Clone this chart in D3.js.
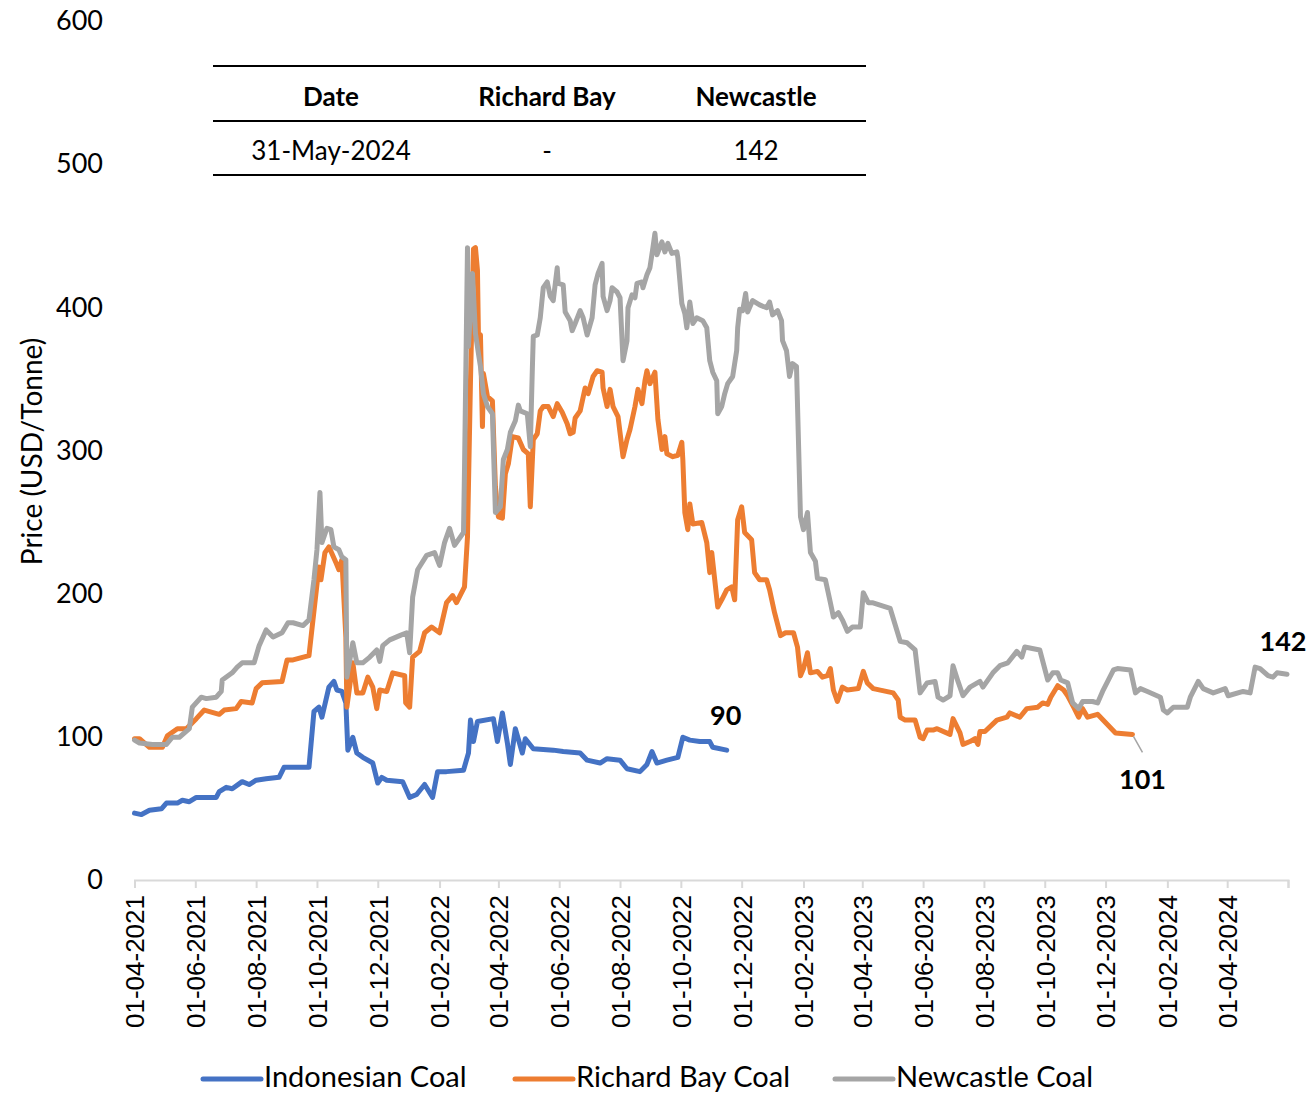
<!DOCTYPE html>
<html>
<head>
<meta charset="utf-8">
<script src="https://cdn.jsdelivr.net/npm/d3@7"></script>
<style>
  html, body { margin: 0; padding: 0; background: #fff; }
  svg { display: block; }
</style>
</head>
<body>
<svg id="chart" width="1309" height="1094"></svg>
<script>
// ---------------- DATA ----------------
const seriesNames = ["Indonesian Coal", "Richard Bay Coal", "Newcastle Coal"];
const seriesColors = ["#4472C4", "#ED7D31", "#A5A5A5"];
const yTicks = [0, 100, 200, 300, 400, 500, 600];
const yTitle = "Price (USD/Tonne)";
const xStart = "2021-04-01";
const xEnd = "2024-06-01";
const tableHeaders = ["Date", "Richard Bay", "Newcastle"];
const tableRow = ["31-May-2024", "-", "142"];
const endLabels = ["90", "101", "142"];

const indonesianCoal = [
["2021-04-01",46],["2021-04-08",45],["2021-04-16",48],["2021-04-28",49],["2021-05-03",53],["2021-05-14",53],
["2021-05-19",55],["2021-05-26",54],["2021-06-02",57],["2021-06-22",57],["2021-06-25",61],["2021-07-02",64],
["2021-07-08",63],["2021-07-18",68],["2021-07-25",66],["2021-08-01",69],["2021-08-11",70],["2021-08-24",71],
["2021-08-29",78],["2021-09-23",78],["2021-09-28",117],["2021-10-03",120],["2021-10-06",113],["2021-10-13",134],
["2021-10-18",138],["2021-10-21",132],["2021-10-26",131],["2021-10-30",123],["2021-11-01",90],["2021-11-06",99],
["2021-11-10",88],["2021-11-16",85],["2021-11-26",81],["2021-12-01",67],["2021-12-05",71],["2021-12-10",69],
["2021-12-26",68],["2022-01-02",57],["2022-01-09",59],["2022-01-17",66],["2022-01-25",57],["2022-01-30",75],
["2022-02-08",75],["2022-02-25",76],["2022-03-02",88],["2022-03-04",111],["2022-03-07",96],["2022-03-11",110],
["2022-03-27",112],["2022-03-31",96],["2022-04-05",116],["2022-04-10",95],["2022-04-13",80],["2022-04-18",105],
["2022-04-25",88],["2022-04-28",98],["2022-05-06",91],["2022-05-26",90],["2022-06-05",89],["2022-06-22",88],
["2022-06-29",83],["2022-07-12",81],["2022-07-19",84],["2022-08-01",83],["2022-08-08",77],["2022-08-21",75],
["2022-08-28",80],["2022-09-02",89],["2022-09-07",81],["2022-09-17",83],["2022-09-28",85],["2022-10-03",99],
["2022-10-10",97],["2022-10-20",96],["2022-10-30",96],["2022-11-02",92],["2022-11-16",90]
];

const richardBayCoal = [
["2021-04-01",98],["2021-04-06",98],["2021-04-16",92],["2021-04-29",92],["2021-05-04",100],["2021-05-14",105],
["2021-05-23",105],["2021-06-02",112],["2021-06-10",118],["2021-06-25",115],["2021-06-30",118],["2021-07-12",119],
["2021-07-17",124],["2021-07-28",123],["2021-08-01",133],["2021-08-07",137],["2021-08-27",138],["2021-09-01",153],
["2021-09-07",153],["2021-09-23",156],["2021-09-27",181],["2021-10-03",218],["2021-10-05",209],["2021-10-09",228],
["2021-10-13",232],["2021-10-20",221],["2021-10-23",216],["2021-10-26",223],["2021-10-30",169],["2021-10-31",120],
["2021-11-06",151],["2021-11-10",130],["2021-11-16",130],["2021-11-21",141],["2021-11-26",134],["2021-11-30",119],
["2021-12-03",132],["2021-12-10",131],["2021-12-16",144],["2021-12-28",142],["2021-12-29",123],["2022-01-02",120],
["2022-01-05",155],["2022-01-12",159],["2022-01-17",172],["2022-01-24",176],["2022-02-01",172],["2022-02-08",193],
["2022-02-14",198],["2022-02-18",193],["2022-02-26",204],["2022-03-01",239],["2022-03-04",348],["2022-03-07",440],
["2022-03-09",441],["2022-03-11",425],["2022-03-12",379],["2022-03-14",380],["2022-03-16",316],["2022-03-17",353],
["2022-03-21",337],["2022-03-26",334],["2022-03-29",274],["2022-04-01",253],["2022-04-05",252],["2022-04-08",283],
["2022-04-11",290],["2022-04-15",309],["2022-04-21",308],["2022-04-26",300],["2022-05-01",297],["2022-05-03",260],
["2022-05-06",307],["2022-05-10",311],["2022-05-13",327],["2022-05-16",330],["2022-05-21",330],["2022-05-26",323],
["2022-05-30",332],["2022-06-04",326],["2022-06-09",318],["2022-06-12",311],["2022-06-15",312],["2022-06-17",322],
["2022-06-22",327],["2022-06-27",343],["2022-06-30",339],["2022-07-05",351],["2022-07-09",355],["2022-07-14",354],
["2022-07-15",343],["2022-07-19",330],["2022-07-22",342],["2022-07-25",330],["2022-07-30",323],["2022-08-04",295],
["2022-08-08",307],["2022-08-11",314],["2022-08-16",330],["2022-08-19",342],["2022-08-23",332],["2022-08-26",348],
["2022-08-28",355],["2022-08-31",346],["2022-09-05",354],["2022-09-08",321],["2022-09-12",300],["2022-09-15",309],
["2022-09-17",297],["2022-09-23",295],["2022-09-28",296],["2022-10-02",305],["2022-10-03",293],["2022-10-05",256],
["2022-10-08",244],["2022-10-10",262],["2022-10-13",248],["2022-10-22",249],["2022-10-27",235],["2022-10-30",214],
["2022-11-01",228],["2022-11-04",209],["2022-11-07",190],["2022-11-11",195],["2022-11-16",202],["2022-11-21",204],
["2022-11-24",195],["2022-11-27",251],["2022-12-01",260],["2022-12-04",242],["2022-12-11",237],["2022-12-14",214],
["2022-12-19",209],["2022-12-26",209],["2022-12-29",202],["2023-01-03",186],["2023-01-09",170],["2023-01-14",172],
["2023-01-22",172],["2023-01-26",162],["2023-01-29",142],["2023-02-01",147],["2023-02-05",158],["2023-02-08",144],
["2023-02-15",145],["2023-02-20",141],["2023-02-25",142],["2023-02-28",147],["2023-03-03",132],["2023-03-07",124],
["2023-03-12",134],["2023-03-17",132],["2023-03-28",133],["2023-04-02",145],["2023-04-06",137],["2023-04-12",133],
["2023-05-02",130],["2023-05-07",125],["2023-05-09",113],["2023-05-14",111],["2023-05-24",111],["2023-05-29",99],
["2023-06-01",98],["2023-06-05",104],["2023-06-11",104],["2023-06-15",105],["2023-06-28",101],["2023-07-01",112],
["2023-07-08",102],["2023-07-11",94],["2023-07-18",96],["2023-07-23",98],["2023-07-26",94],["2023-07-28",103],
["2023-08-02",103],["2023-08-14",111],["2023-08-24",113],["2023-08-27",116],["2023-09-06",113],["2023-09-13",119],
["2023-09-24",120],["2023-09-29",123],["2023-10-04",122],["2023-10-07",127],["2023-10-14",135],["2023-10-20",132],
["2023-10-24",128],["2023-10-30",120],["2023-11-04",113],["2023-11-08",119],["2023-11-13",113],["2023-11-23",115],
["2023-12-11",102],["2023-12-28",101]
];

const newcastleCoal = [
["2021-04-01",97],["2021-04-06",95],["2021-04-19",94],["2021-05-03",94],["2021-05-09",99],["2021-05-16",99],
["2021-05-26",105],["2021-05-29",120],["2021-06-07",127],["2021-06-12",126],["2021-06-22",127],["2021-06-27",131],
["2021-06-28",139],["2021-07-08",144],["2021-07-13",148],["2021-07-18",151],["2021-07-30",151],["2021-08-04",163],
["2021-08-11",174],["2021-08-18",169],["2021-08-27",172],["2021-09-02",179],["2021-09-07",179],["2021-09-17",177],
["2021-09-23",181],["2021-09-28",209],["2021-10-01",230],["2021-10-04",270],["2021-10-06",235],["2021-10-11",245],
["2021-10-15",244],["2021-10-18",232],["2021-10-23",230],["2021-10-26",225],["2021-10-30",223],["2021-10-31",141],
["2021-11-06",165],["2021-11-10",151],["2021-11-16",151],["2021-11-23",155],["2021-11-30",160],["2021-12-03",152],
["2021-12-06",163],["2021-12-13",167],["2021-12-23",170],["2021-12-30",172],["2022-01-02",158],["2022-01-05",197],
["2022-01-10",216],["2022-01-19",226],["2022-01-27",228],["2022-02-01",219],["2022-02-06",235],["2022-02-11",245],
["2022-02-16",233],["2022-02-25",242],["2022-02-26",286],["2022-03-01",441],["2022-03-02",372],["2022-03-06",423],
["2022-03-09",381],["2022-03-12",367],["2022-03-14",358],["2022-03-17",339],["2022-03-21",330],["2022-03-26",325],
["2022-03-29",256],["2022-04-03",260],["2022-04-06",293],["2022-04-10",300],["2022-04-13",312],["2022-04-18",320],
["2022-04-21",331],["2022-04-23",327],["2022-04-30",325],["2022-05-03",302],["2022-05-05",355],["2022-05-06",379],
["2022-05-10",380],["2022-05-13",392],["2022-05-16",413],["2022-05-20",417],["2022-05-23",407],["2022-05-26",404],
["2022-05-30",427],["2022-05-31",416],["2022-06-05",415],["2022-06-07",396],["2022-06-12",390],["2022-06-14",383],
["2022-06-17",388],["2022-06-22",397],["2022-06-25",392],["2022-06-29",380],["2022-07-04",392],["2022-07-07",415],
["2022-07-10",423],["2022-07-14",430],["2022-07-15",407],["2022-07-19",397],["2022-07-22",404],["2022-07-24",413],
["2022-07-29",410],["2022-08-01",406],["2022-08-04",362],["2022-08-08",376],["2022-08-09",399],["2022-08-13",408],
["2022-08-16",406],["2022-08-18",416],["2022-08-23",417],["2022-08-24",413],["2022-08-28",422],["2022-08-31",427],
["2022-09-03",441],["2022-09-05",451],["2022-09-07",436],["2022-09-12",445],["2022-09-15",438],["2022-09-18",444],
["2022-09-22",437],["2022-09-27",438],["2022-09-28",434],["2022-10-02",402],["2022-10-05",395],["2022-10-07",385],
["2022-10-10",403],["2022-10-13",388],["2022-10-17",392],["2022-10-23",390],["2022-10-27",385],["2022-10-30",362],
["2022-11-02",354],["2022-11-06",348],["2022-11-07",325],["2022-11-11",330],["2022-11-14",339],["2022-11-17",346],
["2022-11-22",351],["2022-11-26",369],["2022-11-27",385],["2022-11-29",398],["2022-12-02",397],["2022-12-05",409],
["2022-12-07",396],["2022-12-12",404],["2022-12-19",401],["2022-12-26",399],["2022-12-29",403],["2023-01-01",394],
["2023-01-06",397],["2023-01-10",390],["2023-01-11",376],["2023-01-15",369],["2023-01-18",351],["2023-01-21",360],
["2023-01-25",358],["2023-01-29",253],["2023-02-01",244],["2023-02-05",256],["2023-02-08",228],["2023-02-13",222],
["2023-02-15",210],["2023-02-23",209],["2023-02-28",193],["2023-03-03",183],["2023-03-08",186],["2023-03-12",181],
["2023-03-17",173],["2023-03-22",176],["2023-03-30",176],["2023-04-02",200],["2023-04-07",193],["2023-04-11",193],
["2023-04-29",189],["2023-05-09",166],["2023-05-16",165],["2023-05-24",160],["2023-05-29",130],["2023-06-05",137],
["2023-06-13",138],["2023-06-16",127],["2023-06-21",125],["2023-06-28",128],["2023-07-01",149],["2023-07-06",138],
["2023-07-11",128],["2023-07-18",134],["2023-07-28",138],["2023-07-31",134],["2023-08-10",144],["2023-08-17",149],
["2023-08-25",151],["2023-09-03",159],["2023-09-08",155],["2023-09-11",162],["2023-09-26",160],["2023-10-04",139],
["2023-10-09",144],["2023-10-14",144],["2023-10-17",139],["2023-10-24",137],["2023-10-29",123],["2023-11-04",119],
["2023-11-08",124],["2023-11-18",124],["2023-11-23",123],["2023-11-28",131],["2023-12-09",146],["2023-12-13",147],
["2023-12-26",146],["2023-12-31",130],["2024-01-05",133],["2024-01-12",131],["2024-01-25",127],["2024-01-28",118],
["2024-02-01",116],["2024-02-07",120],["2024-02-21",120],["2024-02-24",127],["2024-03-03",138],["2024-03-08",133],
["2024-03-18",130],["2024-03-30",133],["2024-04-02",128],["2024-04-17",131],["2024-04-24",130],["2024-04-29",148],
["2024-05-04",147],["2024-05-12",142],["2024-05-17",141],["2024-05-21",144],["2024-05-31",143]
];

// ---------------- CHART ----------------
const parse = d3.timeParse("%Y-%m-%d");
const toPts = arr => arr.map(([d, v]) => ({ date: parse(d), value: v }));
const series = [indonesianCoal, richardBayCoal, newcastleCoal].map(toPts);

const svg = d3.select("#chart");
const plot = { left: 134.5, right: 1288, top: 20, bottom: 879 };

const x = d3.scaleTime().domain([parse(xStart), parse(xEnd)]).range([plot.left, plot.right]);
const y = d3.scaleLinear().domain([0, 600]).range([plot.bottom, plot.top]);

const sansFont = "Lato, 'Open Sans', sans-serif";

// Y axis labels
const yAxis = svg.append("g")
  .attr("transform", `translate(103,0)`)
  .call(d3.axisLeft(y).tickValues(yTicks).tickSize(0).tickPadding(0));
yAxis.select(".domain").remove();
yAxis.selectAll("text")
  .style("font-family", sansFont)
  .style("font-size", "27px")
  .attr("fill", "#000")
  .attr("dy", "0.36em");

// Y title
svg.append("text")
  .attr("transform", `translate(42,${(plot.top + plot.bottom) / 2 + 2}) rotate(-90)`)
  .attr("text-anchor", "middle")
  .style("font-family", sansFont)
  .style("font-size", "28px")
  .attr("fill", "#000")
  .text(yTitle);

// X axis: ticks every 2 months starting at the first date, plus the axis end
const startDate = parse(xStart), endDate = parse(xEnd);
const monthTicks = [];
for (let d = startDate; d < endDate; d = d3.timeMonth.offset(d, 2)) monthTicks.push(d);
const allTicks = monthTicks.concat([endDate]);
const fmt = d3.timeFormat("%d-%m-%Y");
const xAxisG = svg.append("g")
  .attr("transform", `translate(0,${plot.bottom + 1})`)
  .call(d3.axisBottom(x).tickValues(allTicks).tickSizeOuter(0).tickSize(8)
    .tickFormat(d => (+d === +endDate ? "" : fmt(d))));
xAxisG.select(".domain").attr("stroke", "#d9d9d9").attr("stroke-width", 2);
xAxisG.selectAll(".tick line").attr("stroke", "#d9d9d9").attr("stroke-width", 2);
xAxisG.selectAll(".tick text")
  .attr("transform", "rotate(-90)")
  .attr("x", -15)
  .attr("y", 0)
  .attr("dy", "0.36em")
  .style("text-anchor", "end")
  .style("font-family", "'Liberation Sans', Arial, sans-serif")
  .style("font-size", "26px")
  .attr("fill", "#000");

// Lines
const line = d3.line().x(d => x(d.date)).y(d => y(d.value));
series.forEach((pts, i) => {
  svg.append("path")
    .datum(pts)
    .attr("fill", "none")
    .attr("stroke", seriesColors[i])
    .attr("stroke-width", 5)
    .attr("stroke-linejoin", "round")
    .attr("stroke-linecap", "round")
    .attr("d", line);
});

// End labels
const lastOf = pts => pts[pts.length - 1];
const lblStyle = sel => sel.style("font-family", sansFont).style("font-size", "27px")
  .style("font-weight", "bold").attr("fill", "#000").attr("text-anchor", "middle")
  .attr("dominant-baseline", "central");

const indoLast = lastOf(series[0]);
svg.append("text").attr("x", x(indoLast.date) - 1).attr("y", y(indoLast.value) - 36)
  .call(lblStyle).text(endLabels[0]);

const rbLast = lastOf(series[1]);
svg.append("line")
  .attr("x1", x(rbLast.date) + 1).attr("y1", y(rbLast.value) + 2)
  .attr("x2", x(rbLast.date) + 10).attr("y2", y(rbLast.value) + 18)
  .attr("stroke", "#a5a5a5").attr("stroke-width", 1.5);
svg.append("text").attr("x", x(rbLast.date) + 10).attr("y", y(rbLast.value) + 44)
  .call(lblStyle).text(endLabels[1]);

const ncLast = lastOf(series[2]);
svg.append("text").attr("x", x(ncLast.date) - 4).attr("y", y(ncLast.value) - 34)
  .call(lblStyle).text(endLabels[2]);

// Table
const tbl = { left: 213, right: 866, lines: [66, 121, 175], cols: [331, 547, 756] };
tbl.lines.forEach(ly => {
  svg.append("line").attr("x1", tbl.left).attr("x2", tbl.right)
    .attr("y1", ly).attr("y2", ly).attr("stroke", "#000").attr("stroke-width", 2);
});
tableHeaders.forEach((h, i) => {
  svg.append("text").attr("x", tbl.cols[i]).attr("y", 96)
    .attr("text-anchor", "middle").attr("dominant-baseline", "central")
    .style("font-family", sansFont).style("font-size", "26px").style("font-weight", "bold")
    .attr("fill", "#000").text(h);
});
tableRow.forEach((c, i) => {
  svg.append("text").attr("x", tbl.cols[i]).attr("y", 150)
    .attr("text-anchor", "middle").attr("dominant-baseline", "central")
    .style("font-family", sansFont).style("font-size", "26px")
    .attr("fill", "#000").text(c);
});

// Legend
const legendX = [203, 515, 835];
const legendLineY = 1079;
const legendBaseline = 1087;
seriesNames.forEach((name, i) => {
  const g = svg.append("g").attr("transform", `translate(${legendX[i]},0)`);
  g.append("line").attr("x1", 0).attr("x2", 58).attr("y1", legendLineY).attr("y2", legendLineY)
    .attr("stroke", seriesColors[i]).attr("stroke-width", 5).attr("stroke-linecap", "round");
  g.append("text").attr("x", 61).attr("y", legendBaseline)
    .style("font-family", sansFont).style("font-size", "29px").attr("fill", "#000").text(name);
});
</script>
</body>
</html>
